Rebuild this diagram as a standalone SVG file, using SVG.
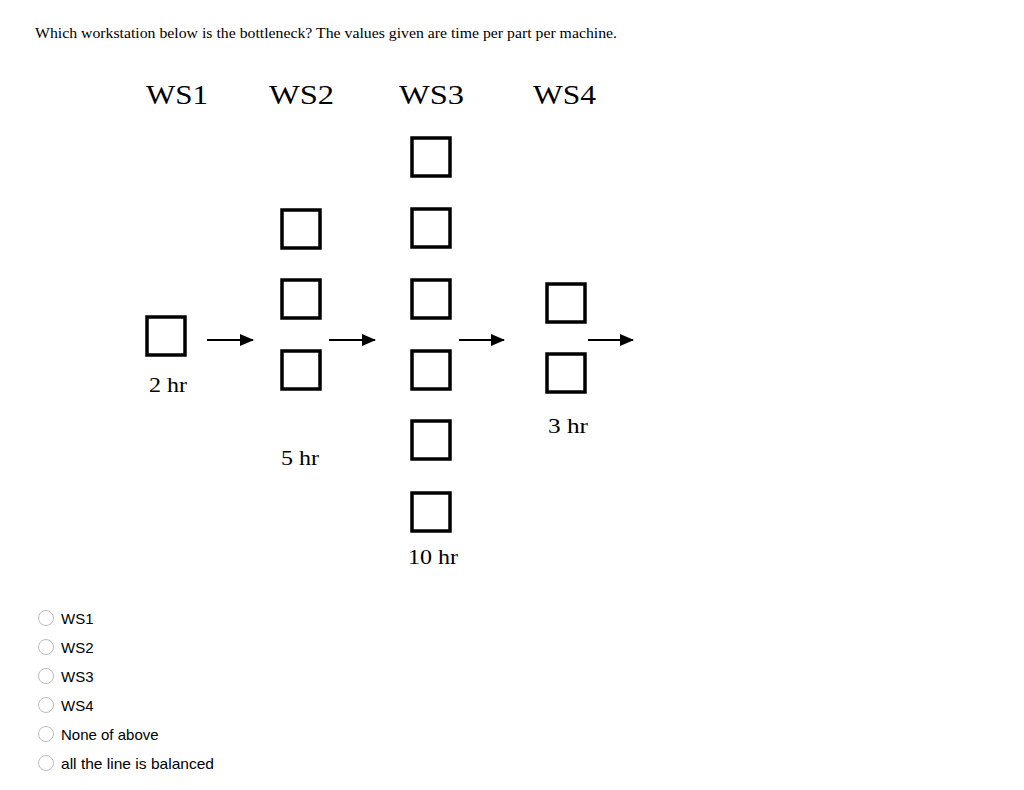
<svg xmlns="http://www.w3.org/2000/svg" width="1024" height="790" viewBox="0 0 1024 790">
<defs>
<style>
.t{font-family:"Liberation Serif",serif;fill:#000}
.s{font-family:"Liberation Sans",sans-serif;font-size:15px;fill:#000}
.b{fill:#fff;stroke:#000;stroke-width:3.5}
.a{stroke:#000;stroke-width:2}
.r{fill:#fff;stroke:#bbb;stroke-width:1}
</style>
<marker id="ah" markerWidth="14" markerHeight="12" refX="13" refY="6" orient="auto" markerUnits="userSpaceOnUse" viewBox="0 0 14 12"><path d="M0,0 L14,6 L0,12 Z" fill="#000"/></marker>
</defs>
<rect width="1024" height="790" fill="#fff"/>
<text class="t" x="35" y="38" font-size="15" textLength="582" lengthAdjust="spacingAndGlyphs">Which workstation below is the bottleneck?  The values given are time per part per machine.</text>
<g id="headers" class="t" font-size="28">
<text x="146" y="104" textLength="62" lengthAdjust="spacingAndGlyphs">WS1</text><text x="269" y="104" textLength="65" lengthAdjust="spacingAndGlyphs">WS2</text><text x="399" y="104" textLength="65" lengthAdjust="spacingAndGlyphs">WS3</text><text x="533" y="104" textLength="63" lengthAdjust="spacingAndGlyphs">WS4</text>
</g>
<g id="ws1"><rect class="b" x="147" y="317" width="38" height="38"/><text class="t" x="149" y="392" font-size="21" textLength="38" lengthAdjust="spacingAndGlyphs">2 hr</text></g>
<g id="ws2"><rect class="b" x="282" y="210" width="38" height="38"/><rect class="b" x="282" y="280" width="38" height="38"/><rect class="b" x="282" y="351" width="38" height="38"/><text class="t" x="281" y="465" font-size="21" textLength="38" lengthAdjust="spacingAndGlyphs">5 hr</text></g>
<g id="ws3"><rect class="b" x="412" y="138" width="38" height="38"/><rect class="b" x="412" y="209" width="38" height="38"/><rect class="b" x="412" y="280" width="38" height="38"/><rect class="b" x="412" y="351" width="38" height="38"/><rect class="b" x="412" y="421" width="38" height="38"/><rect class="b" x="412" y="493" width="38" height="38"/><text class="t" x="408" y="564" font-size="21" textLength="50" lengthAdjust="spacingAndGlyphs">10 hr</text></g>
<g id="ws4"><rect class="b" x="547" y="284" width="38" height="38"/><rect class="b" x="547" y="354" width="38" height="38"/><text class="t" x="548" y="433" font-size="21" textLength="40" lengthAdjust="spacingAndGlyphs">3 hr</text></g>
<g id="connectors">
<line class="a" x1="207" y1="340" x2="253" y2="340" marker-end="url(#ah)"/>
<line class="a" x1="329" y1="340" x2="375" y2="340" marker-end="url(#ah)"/>
<line class="a" x1="459" y1="340" x2="504" y2="340" marker-end="url(#ah)"/>
<line class="a" x1="588" y1="340" x2="633" y2="340" marker-end="url(#ah)"/>
</g>
<g id="options">
<circle class="r" cx="46" cy="618" r="7.5"/><text class="s" x="61" y="624">WS1</text>
<circle class="r" cx="46" cy="647" r="7.5"/><text class="s" x="61" y="653">WS2</text>
<circle class="r" cx="46" cy="676" r="7.5"/><text class="s" x="61" y="682">WS3</text>
<circle class="r" cx="46" cy="705" r="7.5"/><text class="s" x="61" y="711">WS4</text>
<circle class="r" cx="46" cy="734" r="7.5"/><text class="s" x="61" y="740">None of above</text>
<circle class="r" cx="46" cy="763" r="7.5"/><text class="s" x="61" y="769" textLength="153" lengthAdjust="spacingAndGlyphs">all the line is balanced</text>
</g>
</svg>
